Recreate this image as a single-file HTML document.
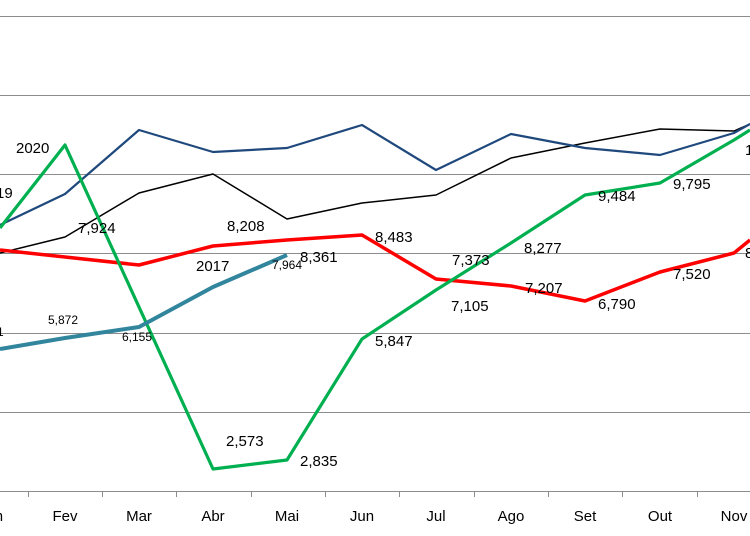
<!DOCTYPE html>
<html><head><meta charset="utf-8"><style>
html,body{margin:0;padding:0;background:#fff;}
svg{display:block;font-family:"Liberation Sans",sans-serif;}
</style></head><body>
<svg width="750" height="536" viewBox="0 0 750 536" xmlns="http://www.w3.org/2000/svg">
<g stroke="#8c8c8c" stroke-width="1">
<line x1="0" y1="16.5" x2="750" y2="16.5"/>
<line x1="0" y1="95.5" x2="750" y2="95.5"/>
<line x1="0" y1="174.5" x2="750" y2="174.5"/>
<line x1="0" y1="253.5" x2="750" y2="253.5"/>
<line x1="0" y1="333.5" x2="750" y2="333.5"/>
<line x1="0" y1="412.5" x2="750" y2="412.5"/>
<line x1="0" y1="491.5" x2="750" y2="491.5"/>
<line x1="28.5" y1="491" x2="28.5" y2="497"/>
<line x1="102.5" y1="491" x2="102.5" y2="497"/>
<line x1="176.5" y1="491" x2="176.5" y2="497"/>
<line x1="251.5" y1="491" x2="251.5" y2="497"/>
<line x1="325.5" y1="491" x2="325.5" y2="497"/>
<line x1="399.5" y1="491" x2="399.5" y2="497"/>
<line x1="474.5" y1="491" x2="474.5" y2="497"/>
<line x1="548.5" y1="491" x2="548.5" y2="497"/>
<line x1="622.5" y1="491" x2="622.5" y2="497"/>
<line x1="697.5" y1="491" x2="697.5" y2="497"/>
</g>
<g fill="none" stroke-linejoin="round">
<polyline stroke="#000" stroke-width="1.5" points="0,253 65,237 139,193 213,174 287,219 362,203 436,195 511,158 585,143 660,129 734,131 750,124"/>
<polyline stroke="#1f497d" stroke-width="2.2" points="0,225 65,194 139,130 213,152 287,148 362,125 436,170 511,134 585,148 660,155 734,133 750,124"/>
<polyline stroke="#ff0000" stroke-width="3.5" points="0,250 65,257 139,265 213,246 287,240 362,235 436,279 511,286 585,301 660,272 734,253 750,240"/>
<polyline stroke="#00b050" stroke-width="3.2" points="0,228 65,145 213,469 287,460 362,339 436,290 511,243 585,195 660,183 734,140 750,130"/>
<polyline stroke="#31859c" stroke-width="4" points="0,349 65,338 139,327 213,287 287,255"/>
</g>
<g font-size="15" fill="#000">
<text x="16" y="153">2020</text>
<text x="-4" y="198">19</text>
<text x="78" y="233">7,924</text>
<text x="227" y="231">8,208</text>
<text x="196" y="271">2017</text>
<text x="300" y="262">8,361</text>
<text x="375" y="242">8,483</text>
<text x="452" y="265">7,373</text>
<text x="524" y="253">8,277</text>
<text x="451" y="311">7,105</text>
<text x="525" y="293">7,207</text>
<text x="375" y="346">5,847</text>
<text x="226" y="446">2,573</text>
<text x="300" y="466">2,835</text>
<text x="598" y="201">9,484</text>
<text x="673" y="189">9,795</text>
<text x="598" y="309">6,790</text>
<text x="673" y="279">7,520</text>
<text x="745" y="258">8</text>
<text x="745" y="155">1</text>
</g>
<g font-size="12" fill="#000">
<text x="272" y="269">7,964</text>
<text x="48" y="324">5,872</text>
<text x="122" y="341">6,155</text>
<text x="-3" y="336">1</text>
</g>
<g font-size="15" fill="#000" text-anchor="middle">
<text x="-9" y="521">Jan</text>
<text x="65" y="521">Fev</text>
<text x="139" y="521">Mar</text>
<text x="213" y="521">Abr</text>
<text x="287" y="521">Mai</text>
<text x="362" y="521">Jun</text>
<text x="436" y="521">Jul</text>
<text x="511" y="521">Ago</text>
<text x="585" y="521">Set</text>
<text x="660" y="521">Out</text>
<text x="734" y="521">Nov</text>
</g>
</svg>
</body></html>
